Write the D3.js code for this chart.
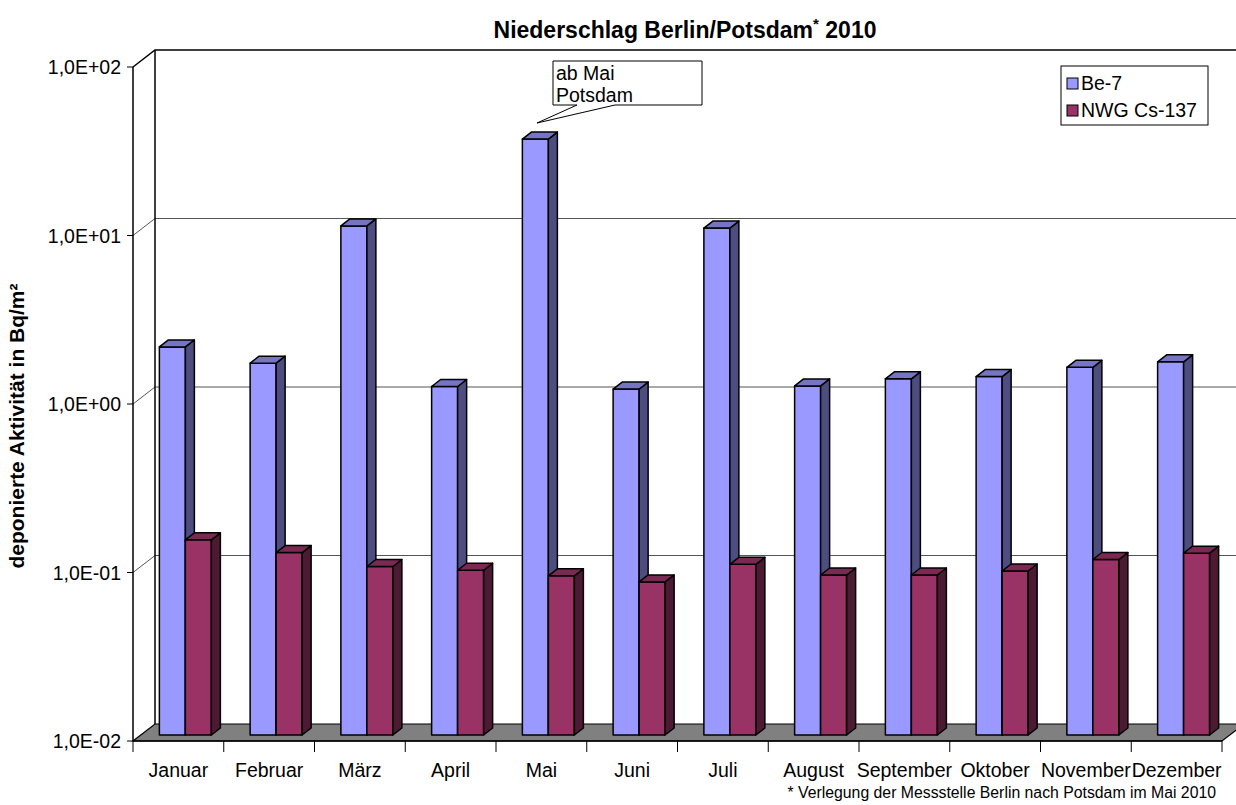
<!doctype html>
<html lang="de">
<head>
<meta charset="utf-8">
<title>Niederschlag Berlin/Potsdam 2010</title>
<style>
  body { margin: 0; background: #fff; }
  svg { display: block; font-family: "Liberation Sans", Arial, sans-serif; }
</style>
</head>
<body>
<script src="https://d3js.org/d3.v7.min.js"></script>
<script>

// values (Bq/m²)
var months = ["Januar", "Februar", "März", "April", "Mai", "Juni", "Juli",
              "August", "September", "Oktober", "November", "Dezember"];
var be7 =    [2.01, 1.61, 10.5, 1.17, 34.4, 1.13, 10.2, 1.18, 1.30, 1.34, 1.52, 1.64];
var cs137 =  [0.144, 0.121, 0.100, 0.095, 0.088, 0.081, 0.103, 0.089, 0.089, 0.094, 0.110, 0.120];
var seriesNames = ["Be-7", "NWG Cs-137"];
var yTicks = [0.01, 0.1, 1, 10, 100];
var yTickLabels = ["1,0E-02", "1,0E-01", "1,0E+00", "1,0E+01", "1,0E+02"];

var W = 1236, H = 805;
// note: "top" is taken by window.top, so keep the box in one object
var plot = {left: 133, right: 1222, top: 67, bottom: 741};
var wallDx = 22, wallDy = -17;     // depth of the back wall
var barDx = 7, barDy = -6;         // bars sit a bit behind the front edge
var depthDx = 9, depthDy = -7;     // depth of each bar

// face colours: front, top, side
var colors = [
  {front: "#9999ff", top: "#7575c4", side: "#4d4d80"},
  {front: "#993366", top: "#7a2952", side: "#4d1a33"}
];

var svg = d3.select("body").append("svg")
    .attr("width", W)
    .attr("height", H);

var x = d3.scaleBand().domain(months).range([plot.left, plot.right]).padding(0);
var xs = d3.scaleBand().domain(seriesNames).range([0, x.step()])
    .paddingInner(0).paddingOuter(0.745);
var y = d3.scaleLog().domain([0.01, 100]).range([plot.bottom, plot.top]);

// back wall + left side wall
var wall = svg.append("g");
yTicks.slice(1, 4).forEach(function(t) {
  wall.append("line")
    .attr("x1", plot.left + wallDx).attr("x2", plot.right + wallDx + 30)
    .attr("y1", y(t) + wallDy).attr("y2", y(t) + wallDy)
    .attr("stroke", "#555").attr("stroke-width", 1.2);
  wall.append("line")
    .attr("x1", plot.left).attr("x2", plot.left + wallDx)
    .attr("y1", y(t)).attr("y2", y(t) + wallDy)
    .attr("stroke", "#555").attr("stroke-width", 1);
});
// top edge
wall.append("path")
  .attr("d", "M" + plot.left + "," + y(100) +
             "L" + (plot.left + wallDx) + "," + (y(100) + wallDy) +
             "L" + (plot.right + wallDx + 30) + "," + (y(100) + wallDy))
  .attr("fill", "none").attr("stroke", "#000").attr("stroke-width", 1.5);
// back vertical edge
wall.append("line")
  .attr("x1", plot.left + wallDx).attr("x2", plot.left + wallDx)
  .attr("y1", y(100) + wallDy).attr("y2", y(0.01) + wallDy)
  .attr("stroke", "#000").attr("stroke-width", 1.5);

// floor
svg.append("polygon")
  .attr("points", [
      [plot.left, plot.bottom], [plot.right, plot.bottom],
      [plot.right + wallDx, plot.bottom + wallDy], [plot.left + wallDx, plot.bottom + wallDy]
    ].join(" "))
  .attr("fill", "#808080").attr("stroke", "#000").attr("stroke-width", 1.2);

// bars
var data = [];
months.forEach(function(m, i) {
  data.push({month: m, s: 0, v: be7[i]});
  data.push({month: m, s: 1, v: cs137[i]});
});

var bars = svg.append("g").selectAll("g")
  .data(data)
  .enter().append("g");

bars.each(function(d) {
  var g = d3.select(this);
  var w = xs.bandwidth();
  var x0 = x(d.month) + xs(seriesNames[d.s]) + barDx;
  var yT = y(d.v) + barDy;
  var yB = y(0.01) + barDy;
  var c = colors[d.s];
  g.append("rect")
    .attr("x", x0).attr("y", yT)
    .attr("width", w).attr("height", yB - yT)
    .attr("fill", c.front);
  g.append("polygon")
    .attr("points", [[x0 + w, yT], [x0 + w + depthDx, yT + depthDy],
                     [x0 + w + depthDx, yB + depthDy], [x0 + w, yB]].join(" "))
    .attr("fill", c.side);
  g.append("polygon")
    .attr("points", [[x0, yT], [x0 + depthDx, yT + depthDy],
                     [x0 + w + depthDx, yT + depthDy], [x0 + w, yT]].join(" "))
    .attr("fill", c.top);
  g.selectAll("rect, polygon")
    .attr("stroke", "#000").attr("stroke-width", 1.5)
    .attr("stroke-linejoin", "round");
});

// y axis
svg.append("line")
  .attr("x1", plot.left).attr("x2", plot.left)
  .attr("y1", y(100)).attr("y2", y(0.01))
  .attr("stroke", "#000").attr("stroke-width", 1.5);
var yAxis = svg.append("g");
yTicks.forEach(function(t, i) {
  yAxis.append("line")
    .attr("x1", plot.left - 6).attr("x2", plot.left)
    .attr("y1", y(t)).attr("y2", y(t))
    .attr("stroke", "#000").attr("stroke-width", 1);
  yAxis.append("text")
    .attr("x", plot.left - 12).attr("y", y(t))
    .attr("dy", "0.36em")
    .attr("text-anchor", "end")
    .attr("font-size", 19.5)
    .text(yTickLabels[i]);
});

// x axis
svg.append("line")
  .attr("x1", plot.left).attr("x2", plot.right)
  .attr("y1", plot.bottom).attr("y2", plot.bottom)
  .attr("stroke", "#000").attr("stroke-width", 1.5);
var xAxis = svg.append("g");
d3.range(months.length + 1).forEach(function(i) {
  var xx = plot.left + i * x.step();
  xAxis.append("line")
    .attr("x1", xx).attr("x2", xx)
    .attr("y1", plot.bottom).attr("y2", plot.bottom + 11)
    .attr("stroke", "#000").attr("stroke-width", 1);
});
months.forEach(function(m) {
  xAxis.append("text")
    .attr("x", x(m) + x.bandwidth() / 2)
    .attr("y", 777)
    .attr("text-anchor", "middle")
    .attr("font-size", 19.5)
    .text(m);
});

// axis title
svg.append("text")
  .attr("transform", "translate(24,426) rotate(-90)")
  .attr("text-anchor", "middle")
  .attr("font-size", 21)
  .attr("font-weight", "bold")
  .text("deponierte Aktivität in Bq/m²");

// title
var title = svg.append("text")
  .attr("x", 685).attr("y", 38)
  .attr("text-anchor", "middle")
  .attr("font-size", 23)
  .attr("font-weight", "bold");
title.append("tspan").text("Niederschlag Berlin/Potsdam");
title.append("tspan").attr("dy", -9).attr("font-size", 15).text("*");
title.append("tspan").attr("dy", 9).text(" 2010");

// legend
var legend = svg.append("g");
legend.append("rect")
  .attr("x", 1061).attr("y", 66)
  .attr("width", 147).attr("height", 59)
  .attr("fill", "#fff").attr("stroke", "#000").attr("stroke-width", 1);
seriesNames.forEach(function(n, i) {
  legend.append("rect")
    .attr("x", 1067).attr("y", 78 + i * 27)
    .attr("width", 11).attr("height", 11)
    .attr("fill", colors[i].front)
    .attr("stroke", "#000").attr("stroke-width", 1);
  legend.append("text")
    .attr("x", 1081).attr("y", 90 + i * 27)
    .attr("font-size", 19.5)
    .text(n);
});

// callout for Mai
var note = svg.append("g");
note.append("polygon")
  .attr("points", "553,61 702,61 702,105 615,105 537,123 577,105 553,105")
  .attr("fill", "#fff").attr("stroke", "#000").attr("stroke-width", 1);
note.append("text").attr("x", 556).attr("y", 80).attr("font-size", 19.5).text("ab Mai");
note.append("text").attr("x", 556).attr("y", 102).attr("font-size", 19.5).text("Potsdam");

// footnote
svg.append("text")
  .attr("x", 1216).attr("y", 798)
  .attr("text-anchor", "end")
  .attr("font-size", 15.8)
  .text("* Verlegung der Messstelle Berlin nach Potsdam im Mai 2010");

</script>
</body>
</html>
